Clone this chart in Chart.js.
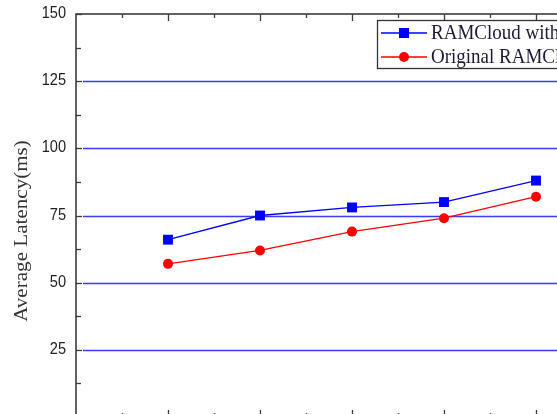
<!DOCTYPE html>
<html>
<head>
<meta charset="utf-8">
<script src="https://cdn.jsdelivr.net/npm/chart.js@4/dist/chart.umd.min.js"></script>
<style>
  html, body { margin: 0; padding: 0; background: #fff; overflow: hidden; width: 557px; height: 414px; }
  canvas { display: block; }
</style>
</head>
<body>
<canvas id="c" width="640" height="432"></canvas>
<script>
// Series values, one point per load level
const loadLevels = [1, 2, 3, 4, 5];
const ramcloudWith = [66, 75, 78, 80, 88];
const originalRamcloud = [57, 62, 69, 74, 82];
const seriesLabels = ['RAMCloud with Cache', 'Original RAMCloud'];
const yTickValues = [25, 50, 75, 100, 125, 150];
const yAxisTitle = 'Average Latency(ms)';

const toPoints = (vals) => loadLevels.map((x, i) => ({ x: x, y: vals[i] }));

// text is drawn slightly taller than wide
const STRETCH = 1.14;

// Frame, inward ticks, grid lines, tick labels, axis title and boxed legend
const framePlugin = {
  id: 'frame',
  beforeDatasetsDraw(chart) {
    const { ctx, chartArea: a, scales } = chart;
    const xs = scales.x, ys = scales.y;
    ctx.save();
    // horizontal grid lines at the major values
    ctx.strokeStyle = '#3b3bf6';
    ctx.lineWidth = 1.7;
    yTickValues.filter(v => v < 150).forEach(v => {
      const y = Math.round(ys.getPixelForValue(v)) + 0.5;
      ctx.beginPath();
      ctx.moveTo(a.left + 7, y);
      ctx.lineTo(a.right, y);
      ctx.stroke();
    });
    // frame
    ctx.strokeStyle = '#3d3d3d';
    ctx.lineWidth = 1.6;
    ctx.strokeRect(a.left, a.top, a.right - a.left, a.bottom - a.top);
    // inward ticks on left axis
    ctx.lineWidth = 1.3;
    for (let v = 0; v <= 150; v += 12.5) {
      const y = Math.round(ys.getPixelForValue(v)) + 0.5;
      const len = (v % 25 === 0) ? 6 : 5;
      ctx.beginPath();
      ctx.moveTo(a.left, y);
      ctx.lineTo(a.left + len, y);
      ctx.stroke();
    }
    // inward ticks on top and bottom axes
    for (let v = 0.5; v < 6; v += 0.5) {
      const x = Math.round(xs.getPixelForValue(v)) + 0.5;
      const len = (v % 1 === 0) ? 7 : 4;
      ctx.beginPath();
      ctx.moveTo(x, a.top);
      ctx.lineTo(x, a.top + len);
      ctx.moveTo(x, a.bottom);
      ctx.lineTo(x, a.bottom - len);
      ctx.stroke();
    }
    ctx.restore();

    // y tick labels
    ctx.save();
    ctx.fillStyle = '#222';
    ctx.font = '14.6px "Liberation Sans", Arial, sans-serif';
    ctx.textAlign = 'right';
    ctx.textBaseline = 'middle';
    yTickValues.forEach(v => {
      const y = ys.getPixelForValue(v);
      ctx.save();
      ctx.translate(66, y - 0.5);
      ctx.scale(1, STRETCH);
      ctx.fillText(String(v), 0, 0);
      ctx.restore();
    });
    ctx.restore();
  },
  afterDraw(chart) {
    const { ctx } = chart;
    ctx.save();
    // rotated y-axis title
    ctx.translate(22, 231);
    ctx.rotate(-Math.PI / 2);
    ctx.scale(STRETCH, 1);
    ctx.fillStyle = '#333';
    ctx.font = '18.5px "Liberation Serif", "Times New Roman", serif';
    ctx.textAlign = 'center';
    ctx.textBaseline = 'middle';
    ctx.fillText(yAxisTitle, 0, 0);
    ctx.restore();

    // legend box
    ctx.save();
    const bx = 377.5, by = 20.5, bw = 240, bh = 48;
    ctx.fillStyle = '#fff';
    ctx.fillRect(bx, by, bw, bh);
    ctx.strokeStyle = '#333';
    ctx.lineWidth = 1.3;
    ctx.strokeRect(bx, by, bw, bh);
    ctx.font = '19px "Liberation Serif", "Times New Roman", serif';
    ctx.textBaseline = 'middle';
    chart.data.datasets.forEach((ds, i) => {
      const y = 33 + i * 24;
      ctx.strokeStyle = ds.borderColor;
      ctx.lineWidth = 1.3;
      ctx.beginPath();
      ctx.moveTo(381, y);
      ctx.lineTo(427, y);
      ctx.stroke();
      ctx.fillStyle = ds.backgroundColor;
      if (ds.pointStyle === 'rect') {
        ctx.fillRect(399, y - 5, 10, 10);
      } else {
        ctx.beginPath();
        ctx.arc(404, y, 5, 0, Math.PI * 2);
        ctx.fill();
      }
      ctx.fillStyle = '#1b1b33';
      ctx.save();
      ctx.translate(431, y + 1);
      ctx.scale(1, 1.06);
      ctx.fillText(ds.label, 0, 0);
      ctx.restore();
    });
    ctx.restore();
  }
};

new Chart(document.getElementById('c'), {
  type: 'line',
  data: {
    datasets: [
      {
        label: seriesLabels[0],
        data: toPoints(ramcloudWith),
        borderColor: '#0000ff',
        backgroundColor: '#0000ff',
        borderWidth: 1.3,
        pointStyle: 'rect',
        pointRadius: 7,
        pointBorderWidth: 0,
        tension: 0
      },
      {
        label: seriesLabels[1],
        data: toPoints(originalRamcloud),
        borderColor: '#ff0000',
        backgroundColor: '#ff0000',
        borderWidth: 1.3,
        pointStyle: 'circle',
        pointRadius: 5,
        pointBorderWidth: 0,
        tension: 0
      }
    ]
  },
  options: {
    responsive: false,
    devicePixelRatio: 1,
    animation: false,
    layout: { padding: { top: 14, right: 12, bottom: 0, left: 0 } },
    plugins: { legend: { display: false }, tooltip: { enabled: false } },
    scales: {
      x: {
        type: 'linear',
        min: 0,
        max: 6,
        grid: { display: false, drawTicks: false },
        border: { display: false },
        ticks: { display: false },
        afterFit(s) { s.height = 15; }
      },
      y: {
        min: 0,
        max: 150,
        grid: { display: false, drawTicks: false },
        border: { display: false },
        ticks: { display: false, stepSize: 25 },
        afterFit(s) { s.width = 76; }
      }
    }
  },
  plugins: [framePlugin]
});
</script>
</body>
</html>
